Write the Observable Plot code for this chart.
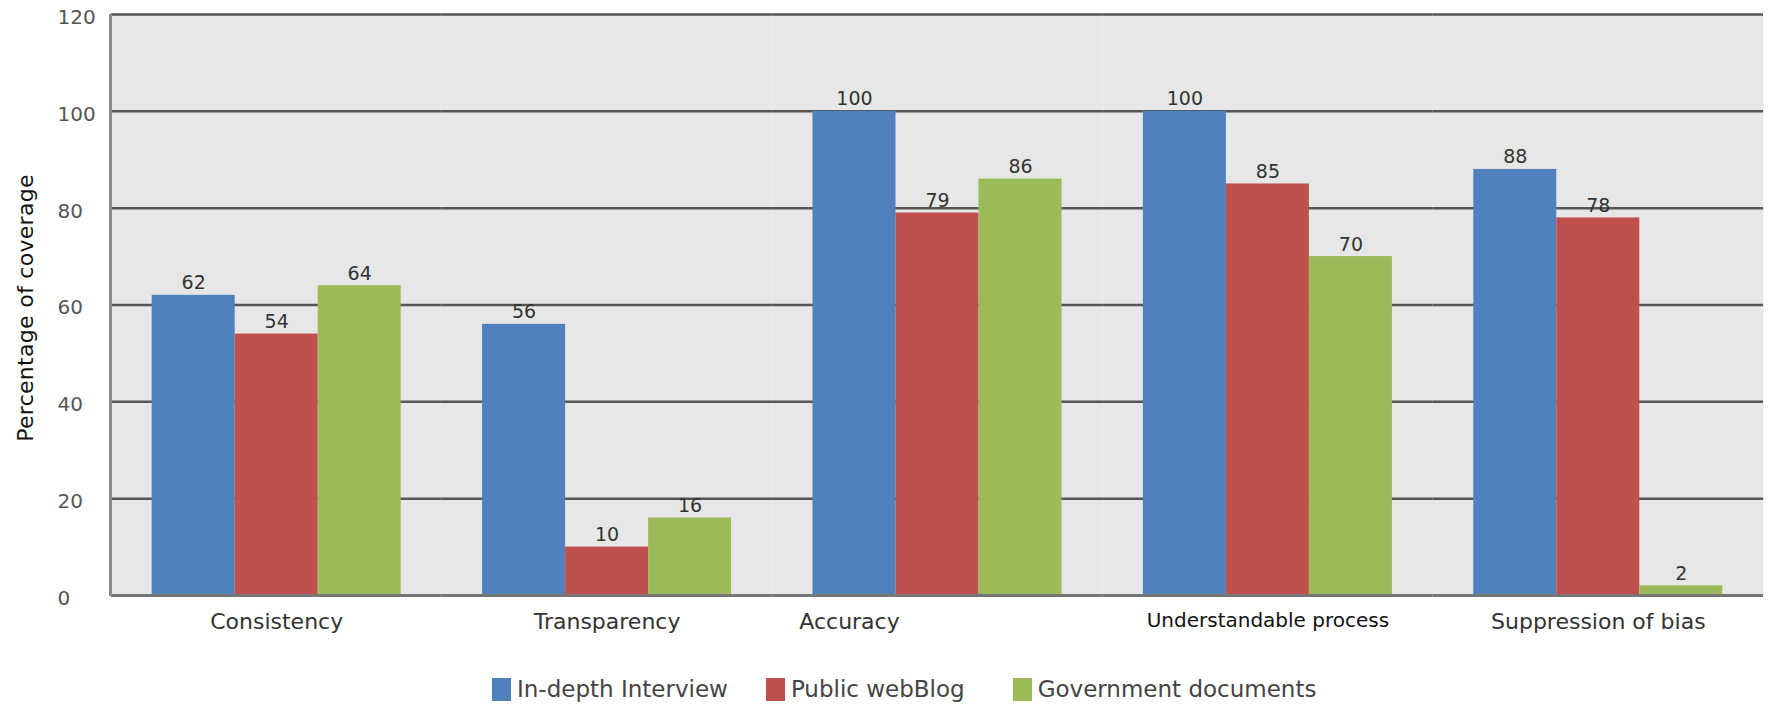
<!DOCTYPE html>
<html>
<head>
<meta charset="utf-8">
<script src="https://cdn.jsdelivr.net/npm/d3@7"></script>
<script src="https://cdn.jsdelivr.net/npm/@observablehq/plot@0.6"></script>
<style>
  html, body { margin: 0; padding: 0; background: #fff; }
  #wrap { position: relative; width: 1771px; height: 705px; font-family: "DejaVu Sans", sans-serif; overflow: hidden; }
  #chart { position: absolute; left: 0; top: 0; }
  #ytitle { position: absolute; left: 25px; top: 308px; transform: translate(-50%, -50%) rotate(-90deg); font-size: 22px; color: #111; white-space: nowrap; letter-spacing: 0.3px; }
  #leftline { position: absolute; left: 109px; top: 14px; width: 3px; height: 582px; background: #8a8a8a; }
  #legend { position: absolute; left: 492px; top: 676px; display: flex; align-items: center; font-size: 23px; color: #444; }
  .item { display: flex; align-items: center; gap: 6px; }
  .item + .item { margin-left: 38px; }
  .item:nth-child(3) { margin-left: 48px; }
  .sw { width: 19px; height: 23px; }
</style>
</head>
<body>
<div id="wrap">
  <div id="chart"></div>
  <div id="leftline"></div>
  <div id="ytitle">Percentage of coverage</div>
  <div id="legend"></div>
</div>
<script>
const categories = ["Consistency", "Transparency", "Accuracy", "Understandable process", "Suppression of bias"];
const series = ["In-depth Interview", "Public webBlog", "Government documents"];
const interview = [62, 56, 100, 100, 88];
const publicWeb = [54, 10, 79, 85, 78];
const govDocs = [64, 16, 86, 70, 2];
const yTicks = [0, 20, 40, 60, 80, 100, 120];
const colors = ["#4F81BD", "#C0504D", "#9BBB59"];

const seriesValues = [interview, publicWeb, govDocs];
const data = categories.flatMap((c, i) =>
  series.map((s, j) => ({category: c, series: s, value: seriesValues[j][i]}))
);

const normalLabels = categories.filter(c => c !== "Accuracy" && c !== "Understandable process");

const plot = Plot.plot({
  width: 1771,
  height: 660,
  marginTop: 14,
  marginBottom: 65,
  marginLeft: 111,
  marginRight: 8,
  style: {fontFamily: "DejaVu Sans, sans-serif", background: "transparent", overflow: "visible"},
  fx: {domain: categories, padding: 0, axis: null, round: false},
  x: {domain: series, paddingInner: 0, paddingOuter: 0.49, axis: null, round: false},
  y: {domain: [0, 120], axis: null},
  color: {domain: series, range: colors},
  marks: [
    Plot.frame({fill: "#e7e7e7", stroke: null}),
    Plot.ruleY(yTicks.filter(d => d > 0), {stroke: "#555", strokeWidth: 2.5}),
    Plot.barY(data, {fx: "category", x: "series", y: "value", fill: "series"}),
    Plot.ruleY([0], {stroke: "#777", strokeWidth: 3}),
    Plot.text(data, {fx: "category", x: "series", y: "value", text: d => String(d.value),
      lineAnchor: "bottom", dy: -6, fontSize: 19, fill: "#333"}),
    Plot.axisY({ticks: yTicks, tickSize: 0, tickPadding: 54, textAnchor: "start",
      fontSize: 20, fill: "#555", dy: 3, label: null}),
    Plot.text(normalLabels, {fx: d => d, text: d => d, frameAnchor: "bottom",
      dy: 33, fontSize: 22, fill: "#333"}),
    Plot.text(["Accuracy"], {fx: d => d, text: d => d, frameAnchor: "bottom",
      dy: 33, dx: -88, fontSize: 22, fill: "#333"}),
    Plot.text(["Understandable process"], {fx: d => d, text: d => d, frameAnchor: "bottom",
      dy: 31, fontSize: 20, fill: "#111", style: "letter-spacing:-0.5px"})
  ]
});
document.getElementById("chart").appendChild(plot);

const legend = document.getElementById("legend");
series.forEach((s, i) => {
  const item = document.createElement("div");
  item.className = "item";
  const sw = document.createElement("div");
  sw.className = "sw";
  sw.style.background = colors[i];
  const t = document.createElement("span");
  t.textContent = s;
  item.appendChild(sw);
  item.appendChild(t);
  legend.appendChild(item);
});
</script>
</body>
</html>
